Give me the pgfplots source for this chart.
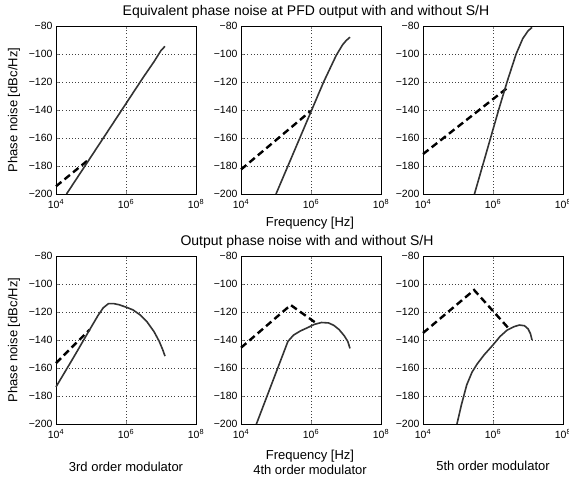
\documentclass[border=0pt]{standalone}
\usepackage{fontspec}
\setmainfont{Liberation Sans}
\usepackage{pgfplots}
\pgfplotsset{compat=1.18}

\pgfplotsset{
  phstyle/.style={
    scale only axis, width=140pt, height=168pt, anchor=south west,
    xmin=1e4, xmax=1e8, ymin=-200, ymax=-80,
    xtick={1e4,1e6,1e8},
    xticklabels={10\textsuperscript{4},10\textsuperscript{6},10\textsuperscript{8}},
    ytick={-200,-180,-160,-140,-120,-100,-80},
    yticklabels={−200,−180,−160,−140,−120,−100,−80},
    xminorticks=false,
    grid=major, grid style={black!75, line width=0.5pt, dash pattern=on 0.6pt off 2.6pt},
    tick align=inside, major tick length=3pt,
    tick label style={font=\fontsize{10.5}{12}\selectfont},
    xticklabel style={yshift=-1.5pt},
    axis line style={line width=0.7pt},
    clip=false,
  },
  solidcurve/.style={black!80, line width=1.6pt, no marks},
  dashcurve/.style={black, line width=2.4pt, dash pattern=on 7pt off 4pt, no marks},
}

\begin{document}
\begin{tikzpicture}
\useasboundingbox (0,0) rectangle (569pt,-477pt);

% --- top row: equivalent phase noise at PFD output
\begin{semilogxaxis}[phstyle, at={(56pt,-194pt)}]
  \addplot[dashcurve] coordinates {(1e4,-194.5) (9.12e4,-174.9)};
  \addplot[solidcurve] coordinates {(2.0e4,-200) (1e5,-173.4) (3.162e5,-154.4) (1e6,-135.4)
    (3.162e6,-116.4) (6.31e6,-105.5) (1e7,-97.5) (1.3e7,-94.5)};
\end{semilogxaxis}
\begin{semilogxaxis}[phstyle, at={(241pt,-194pt)}]
  \addplot[dashcurve] coordinates {(1e4,-182.5) (1e6,-140.5)};
  \addplot[solidcurve] coordinates {(1e5,-200) (2.188e5,-180) (4.786e5,-160) (1.047e6,-140)
    (2.291e6,-120) (5.248e6,-101) (7.943e6,-93.5) (1e7,-90.5) (1.3e7,-88)};
\end{semilogxaxis}
\begin{semilogxaxis}[phstyle, at={(423pt,-194pt)}]
  \addplot[dashcurve] coordinates {(1e4,-171.5) (2.63e6,-124)};
  \addplot[solidcurve] coordinates {(2.951e5,-200) (5.012e5,-180) (8.511e5,-160) (1.445e6,-140)
    (2.512e6,-120) (4.571e6,-100) (7.079e6,-89) (1e7,-83.5) (1.3e7,-81)};
\end{semilogxaxis}

% --- bottom row: output phase noise
\begin{semilogxaxis}[phstyle, at={(56pt,-424pt)}]
  \addplot[dashcurve] coordinates {(1e4,-156.5) (9.12e4,-132.6)};
  \addplot[solidcurve] coordinates {(1e4,-173.5) (3.162e4,-152.5) (1e5,-131) (1.585e5,-122.5)
    (2.239e5,-117) (3.162e5,-114) (4.467e5,-114) (6.31e5,-114.8) (1e6,-116.5)
    (1.585e6,-118.5) (2.512e6,-122) (3.981e6,-127) (6.31e6,-134) (8.913e6,-141)
    (1.122e7,-147) (1.3e7,-151.5)};
\end{semilogxaxis}
\begin{semilogxaxis}[phstyle, at={(241pt,-424pt)}]
  \addplot[dashcurve] coordinates {(1e4,-145.5) (2.63e5,-115) (1.413e6,-128)};
  \addplot[solidcurve] coordinates {(2.754e4,-200) (2.188e5,-141) (3.162e5,-136.5) (5.012e5,-133.5)
    (7.943e5,-131.2) (1.259e6,-128.8) (1.995e6,-127.5) (3.162e6,-127.8) (4.467e6,-129.5)
    (6.31e6,-132.5) (8.913e6,-137) (1.122e7,-141) (1.3e7,-146)};
\end{semilogxaxis}
\begin{semilogxaxis}[phstyle, at={(423pt,-424pt)}]
  \addplot[dashcurve] coordinates {(1e4,-135) (2.884e5,-104.3) (2.754e6,-131.5)};
  \addplot[solidcurve] coordinates {(9.333e4,-200) (1.259e5,-186) (1.778e5,-172) (2.512e5,-163)
    (3.548e5,-157) (5.623e5,-150.5) (1e6,-143.5) (1.585e6,-137.5) (2.512e6,-133)
    (3.981e6,-130.5) (5.623e6,-129.3) (7.943e6,-129.8) (1e7,-132) (1.175e7,-135.5)
    (1.3e7,-140)};
\end{semilogxaxis}

% --- titles and labels
\node[font=\fontsize{14}{16}\selectfont] at (306pt,-11.5pt) {Equivalent phase noise at PFD output with and without S/H};
\node[font=\fontsize{14}{16}\selectfont] at (307pt,-242pt) {Output phase noise with and without S/H};
\node[font=\fontsize{13}{15}\selectfont] at (310pt,-223pt) {Frequency [Hz]};
\node[font=\fontsize{13}{15}\selectfont] at (310pt,-456pt) {Frequency [Hz]};
\node[font=\fontsize{13}{15}\selectfont, rotate=90] at (14pt,-110pt) {Phase noise [dBc/Hz]};
\node[font=\fontsize{13}{15}\selectfont, rotate=90] at (14pt,-340pt) {Phase noise [dBc/Hz]};
\node[font=\fontsize{13}{15}\selectfont] at (126pt,-467pt) {3rd order modulator};
\node[font=\fontsize{13}{15}\selectfont] at (310pt,-470pt) {4th order modulator};
\node[font=\fontsize{13}{15}\selectfont] at (493pt,-466pt) {5th order modulator};
\end{tikzpicture}
\end{document}
